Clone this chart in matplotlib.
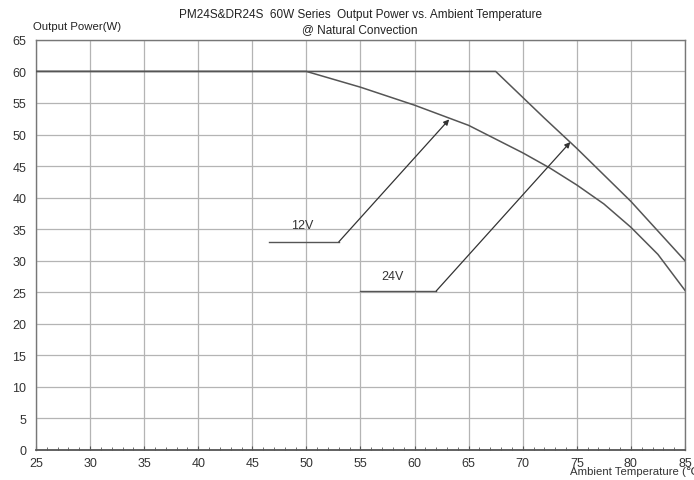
import matplotlib
matplotlib.use('Agg')
import matplotlib.pyplot as plt
from matplotlib.ticker import MultipleLocator

plt.rcParams['font.family'] = ['Liberation Sans', 'DejaVu Sans']

# derating curves, ambient temperature (C) vs output power (W)
temp_24v = [25, 67.5, 72, 75, 80, 85]
power_24v = [60, 60, 52.6, 47.8, 39.4, 30]

temp_12v = [25, 50, 55, 60, 65, 70, 72.5, 75, 77.5, 80, 82.5, 85]
power_12v = [60, 60, 57.5, 54.65, 51.45, 47.1, 44.7, 42.0, 39.0, 35.3, 31.0, 25.3]

# callout lines: horizontal leader then arrow to the curve
lead_12v = ([46.5, 53], [33, 33])
tip_12v = (63.2, 52.4)
lead_24v = ([55, 62], [25.2, 25.2])
tip_24v = (74.4, 48.8)

line_col = '#555555'
grid_col = '#b4b4b4'

fig = plt.figure(figsize=(6.94, 4.81), dpi=100)
ax = fig.add_axes([0.0519, 0.0624, 0.9351, 0.8526])

ax.plot(temp_24v, power_24v, color=line_col, lw=1.1, zorder=3)
ax.plot(temp_12v, power_12v, color=line_col, lw=1.1, zorder=3)

for lead, tip in [(lead_12v, tip_12v), (lead_24v, tip_24v)]:
    ax.plot(lead[0], lead[1], color=line_col, lw=1.0, zorder=3)
    ax.annotate('', xy=tip, xytext=(lead[0][1], lead[1][1]),
                arrowprops=dict(arrowstyle='-|>', color='#333333', lw=0.9,
                                mutation_scale=8, shrinkA=0, shrinkB=0),
                zorder=4)

ax.text(49.6, 35.7, '12V', fontsize=9, color='#333333', ha='center', va='center')
ax.text(58.0, 27.6, '24V', fontsize=9, color='#333333', ha='center', va='center')

ax.set_xlim(25, 85)
ax.set_ylim(0, 65)
ax.xaxis.set_major_locator(MultipleLocator(5))
ax.xaxis.set_minor_locator(MultipleLocator(1))
ax.yaxis.set_major_locator(MultipleLocator(5))
ax.grid(True, which='major', color=grid_col, lw=0.9)
ax.set_axisbelow(True)

ax.tick_params(axis='x', which='major', direction='in', length=3, color=line_col,
               labelsize=9, labelcolor='#333333', pad=5)
ax.tick_params(axis='x', which='minor', direction='in', length=2, color=line_col)
ax.tick_params(axis='y', which='major', length=0, labelsize=9,
               labelcolor='#333333', pad=7)
for s in ax.spines.values():
    s.set_color('#777777')
    s.set_linewidth(1.0)
ax.spines['bottom'].set_color('#555555')
ax.spines['bottom'].set_linewidth(1.3)

fig.text(0.519, 0.968, 'PM24S&DR24S  60W Series  Output Power vs. Ambient Temperature',
         ha='center', va='center', fontsize=8.5, color='#222222')
fig.text(0.519, 0.937, '@ Natural Convection',
         ha='center', va='center', fontsize=8.5, color='#222222')
fig.text(0.047, 0.944, 'Output Power(W)', ha='left', va='center',
         fontsize=8.2, color='#222222')
fig.text(0.821, 0.019, 'Ambient Temperature (\u2103)', ha='left', va='center',
         fontsize=8.2, color='#333333')

fig.savefig('out.png', dpi=100)
